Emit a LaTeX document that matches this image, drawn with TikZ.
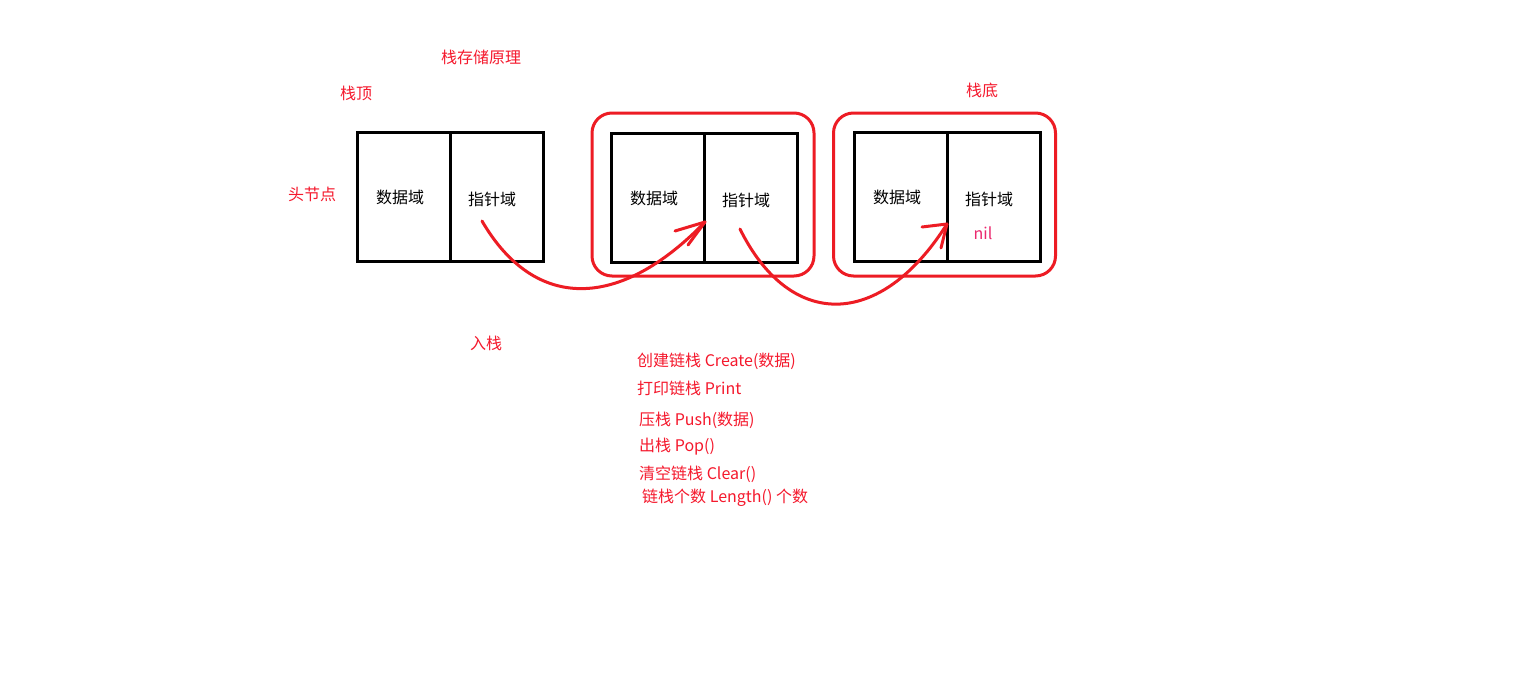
\documentclass[tikz,border=0pt]{standalone}
\usepackage{fontspec}
\setmainfont{Noto Sans CJK SC}
\newfontfamily\cjk{Noto Sans CJK SC}
\definecolor{pred}{RGB}{237,28,36}
\definecolor{tred}{RGB}{245,25,45}
\definecolor{nilc}{RGB}{235,40,110}
\begin{document}
\begin{tikzpicture}[x=1pt,y=-1pt,
  cell/.style={draw=black,line width=3pt,minimum width=93pt,minimum height=129pt,inner sep=0pt},
  ctext/.style={font=\cjk\fontsize{16}{19}\selectfont,text=black,inner sep=0pt},
  lbl/.style={font=\cjk\fontsize{16}{19}\selectfont,text=tred,inner sep=0pt},
  item/.style={font=\cjk\fontsize{16}{19}\selectfont,text=tred,inner sep=0pt,anchor=west},
  frame/.style={draw=pred,line width=3pt,rounded corners=20pt,minimum width=222pt,minimum height=163pt,inner sep=0pt},
  link/.style={draw=pred,line width=3pt,line cap=round}]
\useasboundingbox[fill=white] (0,0) rectangle (1532,699);
% frames
\node[frame] (f2) at (703,194.5) {};
\node[frame] (f3) at (944.5,194.5) {};
% cells
\node[cell] (d1) at (403.5,196.5) {};
\node[cell] (p1) at (496.5,196.5) {};
\node[cell] (d2) at (658,197.5) {};
\node[cell] (p2) at (751,197.5) {};
\node[cell] (d3) at (900.5,196.5) {};
\node[cell] (p3) at (993.5,196.5) {};
\node[ctext] (d1t) at (400,197) {数据域};
\node[ctext] (p1t) at (492,199) {指针域};
\node[ctext] (d2t) at (654,198) {数据域};
\node[ctext] (p2t) at (746,200) {指针域};
\node[ctext] (d3t) at (897,197) {数据域};
\node[ctext] (p3t) at (989,199) {指针域};
% labels
\node[lbl] (title) at (481,57) {栈存储原理};
\node[lbl] (top) at (356,93) {栈顶};
\node[lbl] (head) at (312,194) {头节点};
\node[lbl] (bottom) at (982,90) {栈底};
\node[lbl] (push) at (486,343) {入栈};
\node[font=\fontsize{16}{19}\selectfont,text=nilc,inner sep=0pt] (nil) at (983,233) {nil};
% operation list
\node[item] (o1) at (637,361) {创建链栈 Create(数据)};
\node[item] (o2) at (637,388) {打印链栈 Print};
\node[item] (o3) at (639,420) {压栈 Push(数据)};
\node[item] (o4) at (639,447) {出栈 Pop()};
\node[item] (o5) at (639,474) {清空链栈 Clear()};
\node[item] (o6) at (642,498) {链栈个数 Length() 个数};
% connectors
\coordinate (s1) at (482,221);
\coordinate (t1) at (705,222);
\coordinate (s2) at (740,229);
\coordinate (t2) at (947,224);
\draw[link] (s1) .. controls (535,312) and (620,310) .. (t1);
\draw[link] (t1) -- ++(-30,9);
\draw[link] (t1) -- ++(-17,23);
\draw[link] (s2) .. controls (790,330) and (880,330) .. (t2);
\draw[link] (t2) -- ++(-25,3);
\draw[link] (t2) -- ++(-6,24);
\end{tikzpicture}
\end{document}
